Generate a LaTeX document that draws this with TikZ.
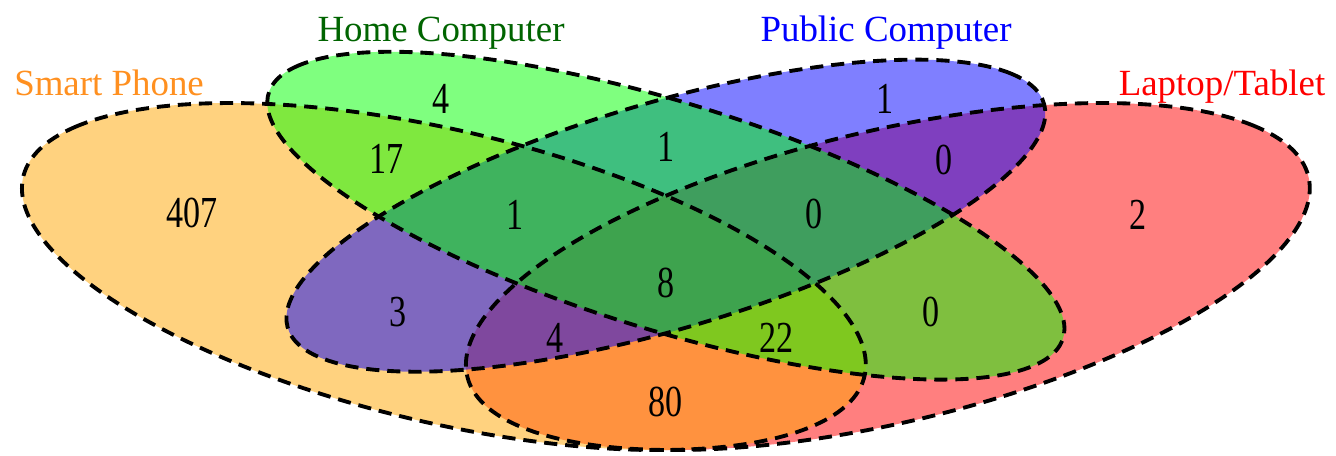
\documentclass[tikz,border=0pt]{standalone}
\usepackage{fontspec}
\setmainfont{Liberation Serif}
\usepackage{xcolor}
\definecolor{phonefill}{HTML}{FFA500}
\definecolor{homefill}{HTML}{00FF00}
\definecolor{publicfill}{HTML}{0000FF}
\definecolor{laptopfill}{HTML}{FF0000}
\definecolor{phonetxt}{HTML}{FF9020}
\definecolor{hometxt}{HTML}{006400}
\definecolor{publictxt}{HTML}{0000FF}
\definecolor{laptoptxt}{HTML}{FF0000}
\usepackage{tikz}
\newcommand\tallnum[1]{\scalebox{1}[1.3]{#1}}

\begin{document}
\begin{tikzpicture}[x=29.6cm,y=12.172cm,
  setlabel/.style={font=\fontsize{21}{25}\selectfont,inner sep=0pt,anchor=base},
  count/.style={font=\fontsize{19.4}{23}\selectfont,inner sep=0pt},
  setline/.style={draw=black,line width=2.2pt,dash pattern=on 7.5pt off 4.5pt}]
\useasboundingbox (0.0501,0.1752) rectangle (0.9528,0.9244);
% ellipses: fills first, dashed outlines on top
\begin{scope}[x=1cm,y=1cm,xscale=29.6,yscale=12.172]
\foreach \cx/\cy/\a/\b/\r/\col in {0.65/0.47/0.35/0.20/45/laptopfill,
    0.35/0.47/0.35/0.20/135/phonefill,
    0.50/0.57/0.33/0.15/45/publicfill,
    0.50/0.57/0.35/0.15/135/homefill}
  \fill[\col,fill opacity=.5,shift={(\cx,\cy)},rotate=\r] (0,0) ellipse [x radius=\a,y radius=\b];
\foreach \cx/\cy/\a/\b/\r in {0.35/0.47/0.35/0.20/135,0.50/0.57/0.35/0.15/135,
    0.50/0.57/0.33/0.15/45,0.65/0.47/0.35/0.20/45}
  \draw[setline,shift={(\cx,\cy)},rotate=\r] (0,0) ellipse [x radius=\a,y radius=\b];
\end{scope}
% set names
\node[setlabel,text=phonetxt] (phone) at (0.1238,0.7682) {Smart Phone};
\node[setlabel,text=hometxt] (home) at (0.3481,0.8554) {Home Computer};
\node[setlabel,text=publictxt] (public) at (0.6488,0.8554) {Public Computer};
\node[setlabel,text=laptoptxt] (laptop) at (0.8758,0.7682) {Laptop/Tablet};
% region counts
\node[count] (sp) at (0.180,0.575) {\tallnum{407}};
\node[count] (hc) at (0.348,0.762) {\tallnum{4}};
\node[count] (pc) at (0.648,0.762) {\tallnum{1}};
\node[count] (lt) at (0.819,0.572) {\tallnum{2}};
\node[count] (sphc) at (0.311,0.664) {\tallnum{17}};
\node[count] (hcpc) at (0.500,0.683) {\tallnum{1}};
\node[count] (pclt) at (0.688,0.662) {\tallnum{0}};
\node[count] (sphcpc) at (0.398,0.572) {\tallnum{1}};
\node[count] (hcpclt) at (0.600,0.572) {\tallnum{0}};
\node[count] (all) at (0.500,0.460) {\tallnum{8}};
\node[count] (sppc) at (0.319,0.411) {\tallnum{3}};
\node[count] (hclt) at (0.679,0.411) {\tallnum{0}};
\node[count] (sppclt) at (0.425,0.369) {\tallnum{4}};
\node[count] (sphclt) at (0.575,0.369) {\tallnum{22}};
\node[count] (splt) at (0.500,0.264) {\tallnum{80}};
\end{tikzpicture}
\end{document}
